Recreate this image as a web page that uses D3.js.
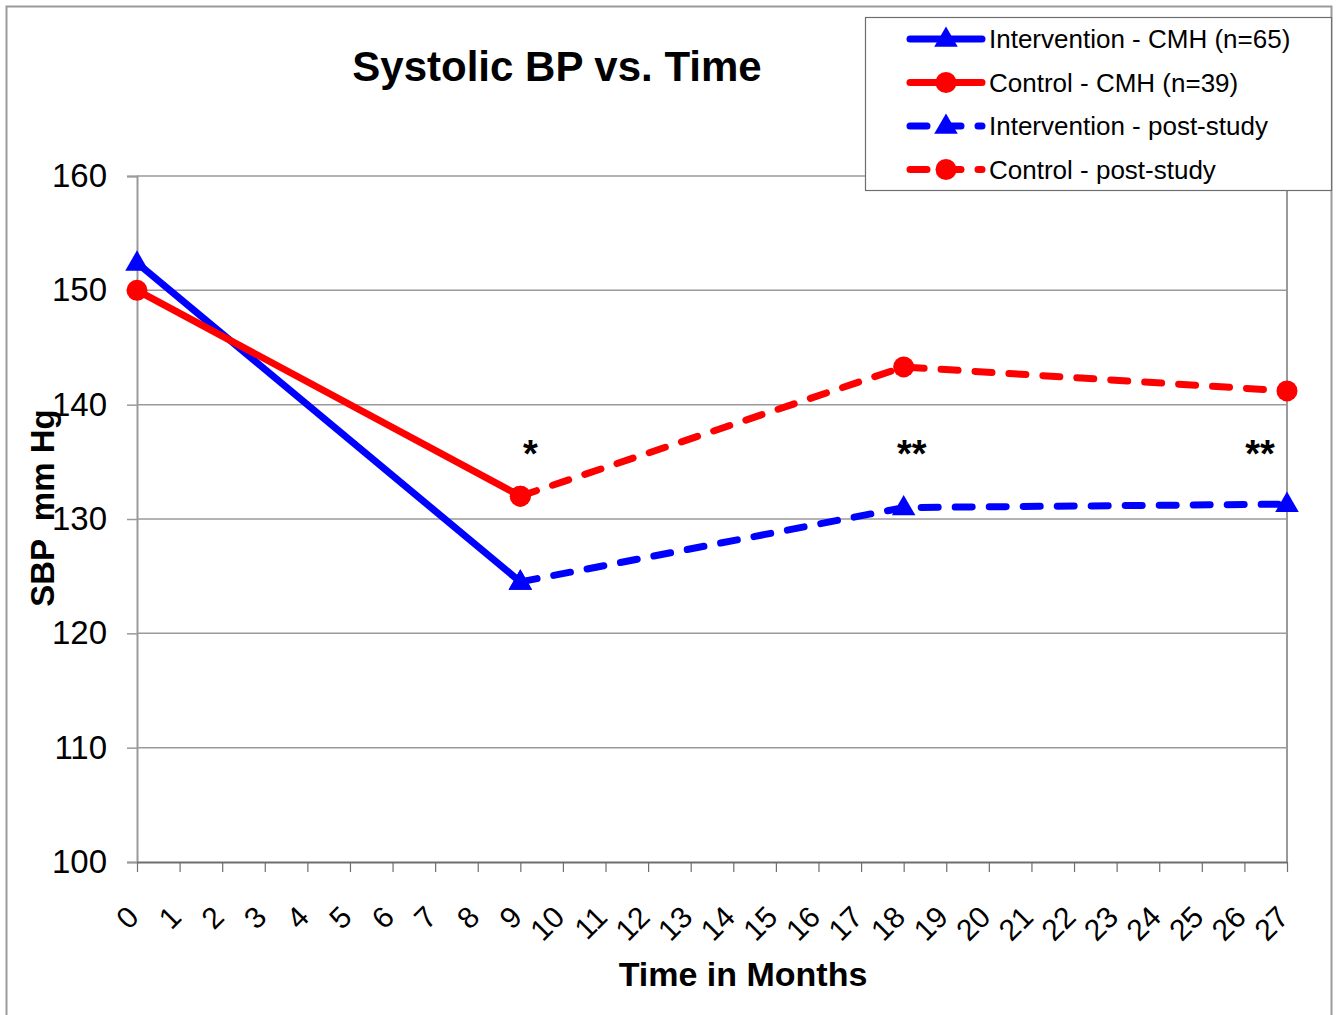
<!DOCTYPE html>
<html>
<head>
<meta charset="utf-8">
<script src="https://cdn.jsdelivr.net/npm/d3@7"></script>
<style>
  body { margin: 0; background: #fff; }
  svg text { font-family: "Liberation Sans", Arial, sans-serif; }
</style>
</head>
<body>
<svg id="chart" width="1337" height="1015"></svg>
<script>
// values
var months = [0, 9, 18, 27];
var interventionCMH = [152.4, 124.5];
var controlCMH = [150.0, 132.0];
var interventionPost = [124.5, 131.0, 131.3];
var controlPost = [132.0, 143.3, 141.2];
var xTicks = [0,1,2,3,4,5,6,7,8,9,10,11,12,13,14,15,16,17,18,19,20,21,22,23,24,25,26,27];
var yTicks = [100, 110, 120, 130, 140, 150, 160];
var stars = [{m: 9, label: "*"}, {m: 18, label: "**"}, {m: 27, label: "**"}];
var legendLabels = ["Intervention - CMH (n=65)", "Control - CMH (n=39)", "Intervention - post-study", "Control - post-study"];

var series = [
  {name: legendLabels[0], x: months.slice(0, 2), y: interventionCMH, color: "#0000ff", dashed: false, marker: "tri"},
  {name: legendLabels[1], x: months.slice(0, 2), y: controlCMH, color: "#ff0000", dashed: false, marker: "dot"},
  {name: legendLabels[2], x: months.slice(1), y: interventionPost, color: "#0000ff", dashed: true, marker: "tri"},
  {name: legendLabels[3], x: months.slice(1), y: controlPost, color: "#ff0000", dashed: true, marker: "dot"}
];

var svg = d3.select("#chart");

// outer chart border
svg.append("rect")
  .attr("x", 6.5).attr("y", 6.5)
  .attr("width", 1325).attr("height", 1020)
  .attr("fill", "none").attr("stroke", "#9a9a9a").attr("stroke-width", 2);

var x = d3.scaleLinear().domain([0, 27]).range([137, 1287]);
var y = d3.scaleLinear().domain([100, 160]).range([862, 176]);

// gridlines
svg.append("g")
  .selectAll("line")
  .data(yTicks.filter(function(d) { return d > 100; }))
  .enter().append("line")
  .attr("x1", x(0)).attr("x2", x(27))
  .attr("y1", function(d) { return y(d); })
  .attr("y2", function(d) { return y(d); })
  .attr("stroke", "#9a9a9a").attr("stroke-width", 1.5);

// right plot border
svg.append("line")
  .attr("x1", x(27)).attr("x2", x(27))
  .attr("y1", y(160)).attr("y2", y(100))
  .attr("stroke", "#9a9a9a").attr("stroke-width", 2);

// y axis
var yAxis = svg.append("g")
  .attr("transform", "translate(" + x(0) + ",0)")
  .call(d3.axisLeft(y).tickValues(yTicks).tickSize(10).tickPadding(20));
yAxis.select(".domain").attr("stroke", "#9a9a9a").attr("stroke-width", 2);
yAxis.selectAll(".tick line").attr("stroke", "#9a9a9a").attr("stroke-width", 1.5);
yAxis.selectAll(".tick text")
  .attr("font-size", 33).attr("fill", "#000")
  .style("font-family", "Liberation Sans, Arial, sans-serif");

// x axis
var xAxis = svg.append("g")
  .attr("transform", "translate(0," + y(100) + ")")
  .call(d3.axisBottom(x).tickValues(xTicks).tickSize(10).tickSizeOuter(0).tickFormat(d3.format("d")));
xAxis.select(".domain").attr("stroke", "#6e6e6e").attr("stroke-width", 2);
xAxis.selectAll(".tick line").attr("stroke", "#6e6e6e").attr("stroke-width", 1.2);
xAxis.selectAll(".tick text")
  .attr("font-size", 30).attr("fill", "#000")
  .style("font-family", "Liberation Sans, Arial, sans-serif")
  .attr("text-anchor", "end")
  .attr("x", 0).attr("y", 0).attr("dy", 0)
  .attr("transform", "translate(3,57) rotate(-45)");

// lines
var line = d3.line()
  .x(function(d) { return x(d[0]); })
  .y(function(d) { return y(d[1]); });

var triangle = d3.symbol().type(d3.symbolTriangle).size(240);

series.forEach(function(s) {
  var pts = s.x.map(function(m, i) { return [m, s.y[i]]; });
  svg.append("path")
    .datum(pts)
    .attr("d", line)
    .attr("fill", "none")
    .attr("stroke", s.color)
    .attr("stroke-width", 7)
    .attr("stroke-linecap", s.dashed ? "round" : "butt")
    .attr("stroke-linejoin", "round")
    .attr("stroke-dasharray", s.dashed ? "17,17" : null);
});

series.forEach(function(s) {
  var pts = s.x.map(function(m, i) { return [m, s.y[i]]; });
  var g = svg.append("g");
  if (s.marker === "tri") {
    g.selectAll("path").data(pts).enter().append("path")
      .attr("d", triangle)
      .attr("transform", function(d) { return "translate(" + x(d[0]) + "," + (y(d[1]) + 1) + ")"; })
      .attr("fill", s.color);
  } else {
    g.selectAll("circle").data(pts).enter().append("circle")
      .attr("cx", function(d) { return x(d[0]); })
      .attr("cy", function(d) { return y(d[1]); })
      .attr("r", 10.5)
      .attr("fill", s.color);
  }
});

// significance stars
var starOffset = {9: 10, 18: 8, 27: -27};
var starG = svg.append("g").selectAll("g").data(stars).enter().append("g")
  .attr("transform", function(d) { return "translate(" + (x(d.m) + starOffset[d.m]) + ",467)"; });
starG.append("rect")
  .attr("x", function(d) { return d.label.length > 1 ? -24 : -12; })
  .attr("y", -49)
  .attr("width", function(d) { return d.label.length > 1 ? 48 : 24; })
  .attr("height", 66)
  .attr("fill", "#fff");
starG.append("text")
  .attr("text-anchor", "middle")
  .attr("font-size", 38).attr("font-weight", "bold")
  .text(function(d) { return d.label; });

// title
svg.append("text")
  .attr("x", 557).attr("y", 81)
  .attr("text-anchor", "middle")
  .attr("font-size", 42).attr("font-weight", "bold")
  .text("Systolic BP vs. Time");

// axis titles
svg.append("text")
  .attr("transform", "translate(54,508) rotate(-90)")
  .attr("text-anchor", "middle")
  .attr("font-size", 33).attr("font-weight", "bold")
  .style("white-space", "pre")
  .text("SBP  mm Hg");

svg.append("text")
  .attr("x", 743).attr("y", 986)
  .attr("text-anchor", "middle")
  .attr("font-size", 34).attr("font-weight", "bold")
  .text("Time in Months");

// legend
var legend = svg.append("g");
legend.append("rect")
  .attr("x", 865.5).attr("y", 17.5)
  .attr("width", 466).attr("height", 173)
  .attr("fill", "#fff").attr("stroke", "#6e6e6e").attr("stroke-width", 1.2);

var item = legend.selectAll(".legend").data(series).enter().append("g")
  .attr("class", "legend")
  .attr("transform", function(d, i) { return "translate(0," + (39 + i * 43.5) + ")"; });

item.append("line")
  .attr("x1", 910).attr("x2", 982)
  .attr("y1", 0).attr("y2", 0)
  .attr("stroke", function(d) { return d.color; })
  .attr("stroke-width", 7)
  .attr("stroke-linecap", "round")
  .attr("stroke-dasharray", function(d) { return d.dashed ? "17,17" : null; });

item.each(function(d) {
  var g = d3.select(this);
  if (d.marker === "tri") {
    g.append("path").attr("d", triangle).attr("transform", "translate(946,1)").attr("fill", d.color);
  } else {
    g.append("circle").attr("cx", 946).attr("cy", 0).attr("r", 10.5).attr("fill", d.color);
  }
});

item.append("text")
  .attr("x", 989).attr("y", 9)
  .attr("font-size", 26)
  .text(function(d) { return d.name; });
</script>
</body>
</html>
